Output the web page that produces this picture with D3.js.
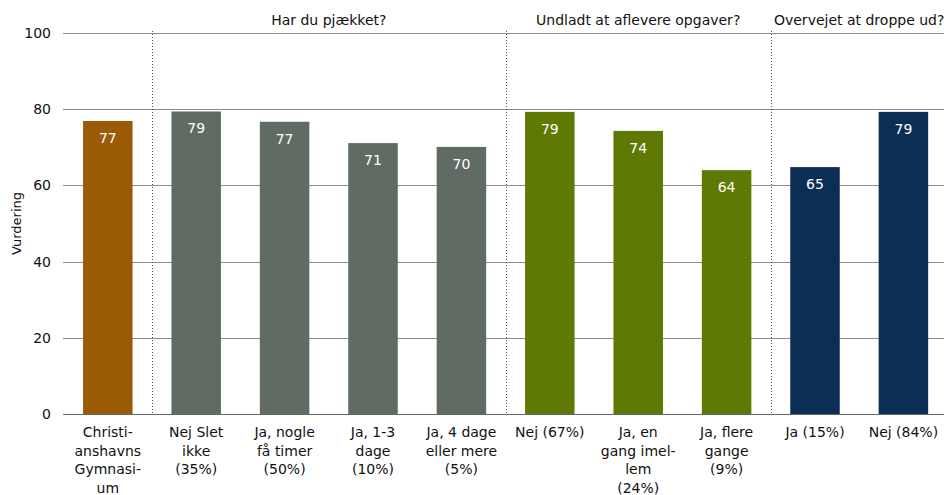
<!DOCTYPE html>
<html><head><meta charset="utf-8">
<script src="https://cdn.jsdelivr.net/npm/d3@7"></script>
<style>body{margin:0;background:#fff;} svg{display:block;font-family:"DejaVu Sans",sans-serif;}</style>
</head><body>
<svg id="chart" width="944" height="495"></svg>
<script>
const categories = [
  ["Christi-","anshavns","Gymnasi-","um"],
  ["Nej Slet","ikke","(35%)"],
  ["Ja, nogle","få timer","(50%)"],
  ["Ja, 1-3","dage","(10%)"],
  ["Ja, 4 dage","eller mere","(5%)"],
  ["Nej (67%)"],
  ["Ja, en","gang imel-","lem","(24%)"],
  ["Ja, flere","gange","(9%)"],
  ["Ja (15%)"],
  ["Nej (84%)"]
];
const values = [76.9, 79.4, 76.7, 71.1, 70.1, 79.3, 74.3, 64.0, 64.8, 79.3];
const groupIndex = [0, 1, 1, 1, 1, 2, 2, 2, 3, 3];
const groupColors = ["#9a5a06", "#5f6b63", "#5f7a04", "#0c2d54"];
const groupTitles = [null, "Har du pjækket?", "Undladt at aflevere opgaver?", "Overvejet at droppe ud?"];
const yTicks = [0, 20, 40, 60, 80, 100];
const yTitle = "Vurdering";

(function () {
const svg = d3.select("#chart");
const mLeft = 63.6, mRight = 947.6, mTop = 33, mBottom = 414;
const ids = d3.range(values.length);
const x = d3.scaleBand().domain(ids).range([mLeft, mRight]).paddingInner(0.44).paddingOuter(0.22);
const y = d3.scaleLinear().domain([0, 100]).range([mBottom, mTop]);
const step = x.step();

// gridlines
svg.append("g").selectAll("line").data(yTicks).join("line")
  .attr("x1", 63).attr("x2", 944)
  .attr("y1", d => Math.round(y(d)) + 0.5).attr("y2", d => Math.round(y(d)) + 0.5)
  .attr("stroke", d => d === 0 ? "#666" : "#8c8c8c").attr("stroke-width", 1);

// tick labels
svg.append("g").selectAll("text").data(yTicks).join("text")
  .attr("x", 51).attr("y", d => y(d)).attr("dy", "0.35em")
  .attr("text-anchor", "end").attr("font-size", 14).attr("fill", "#111")
  .text(d => d);

// y title
svg.append("text").attr("transform", `translate(21,${(mTop + mBottom) / 2}) rotate(-90)`)
  .attr("text-anchor", "middle").attr("font-size", 13).attr("fill", "#111").text(yTitle);

// group dividers & titles
const groups = d3.range(groupTitles.length).map(g => {
  const members = ids.filter(i => groupIndex[i] === g);
  return {g, first: members[0], last: members[members.length - 1]};
});
groups.slice(1).forEach(gr => {
  const xd = Math.round(x(gr.first) - step * x.paddingInner() / 2) + 0.5;
  svg.append("line").attr("x1", xd).attr("x2", xd).attr("y1", 31).attr("y2", mBottom)
    .attr("stroke", "#555").attr("stroke-dasharray", "1,2").attr("stroke-width", 1);
  const cx = (x(gr.first) + x(gr.last) + x.bandwidth()) / 2;
  svg.append("text").attr("x", cx).attr("y", 25).attr("text-anchor", "middle")
    .attr("font-size", 14).attr("fill", "#111").text(groupTitles[gr.g]);
});

// bars
svg.append("g").selectAll("rect").data(ids).join("rect")
  .attr("x", i => x(i)).attr("width", x.bandwidth())
  .attr("y", i => y(values[i])).attr("height", i => mBottom - y(values[i]))
  .attr("fill", i => groupColors[groupIndex[i]]);

// value labels
svg.append("g").selectAll("text").data(ids).join("text")
  .attr("x", i => x(i) + x.bandwidth() / 2).attr("y", i => y(values[i]) + 22)
  .attr("text-anchor", "middle").attr("font-size", 14).attr("fill", "#fff")
  .text(i => Math.round(values[i]));

// category labels
const cat = svg.append("g").selectAll("text").data(ids).join("text")
  .attr("text-anchor", "middle").attr("font-size", 14).attr("fill", "#111");
cat.each(function (i) {
  const t = d3.select(this);
  categories[i].forEach((line, k) => {
    t.append("tspan").attr("x", x(i) + x.bandwidth() / 2).attr("y", 437 + k * 18.6).text(line);
  });
});
})();
</script>
</body></html>
